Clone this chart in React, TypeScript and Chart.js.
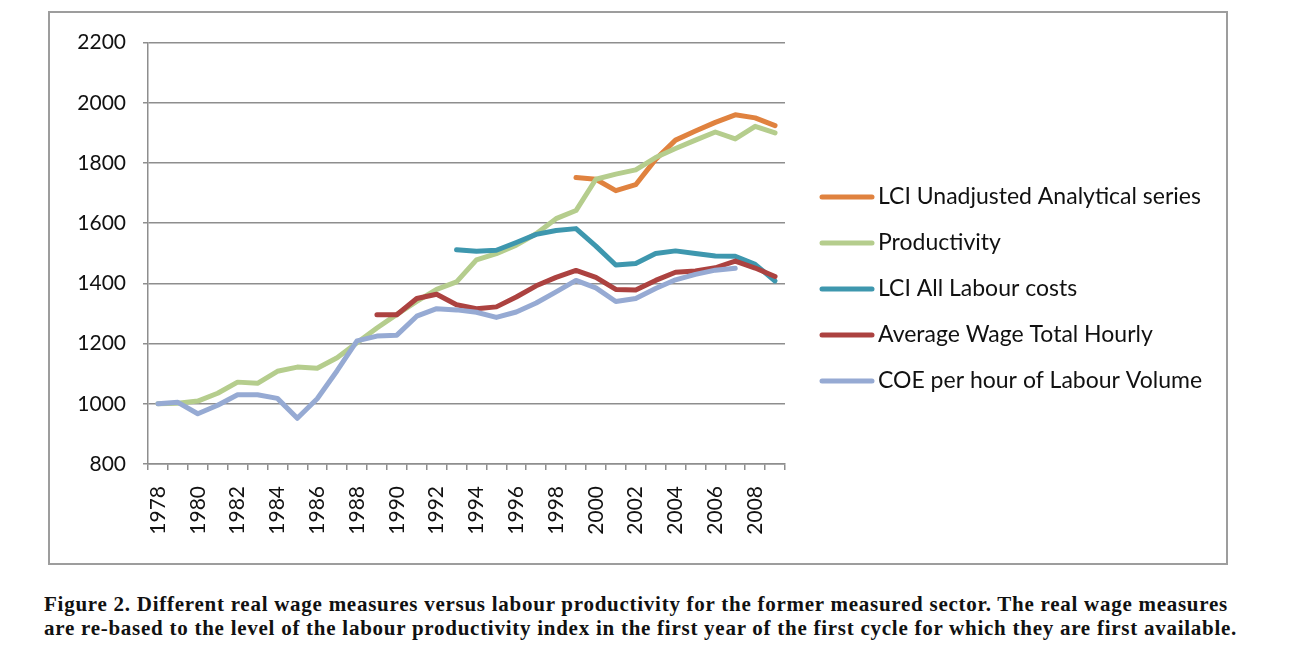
import React, { useRef, useEffect } from 'react';
import { Chart, registerables } from 'chart.js';

Chart.register(...registerables);

const years = [
  '1978', '1979', '1980', '1981', '1982', '1983', '1984', '1985', '1986', '1987', '1988',
  '1989', '1990', '1991', '1992', '1993', '1994', '1995', '1996', '1997', '1998', '1999',
  '2000', '2001', '2002', '2003', '2004', '2005', '2006', '2007', '2008', '2009'
];

const lciUnadjusted = [
  null, null, null, null, null, null, null, null, null, null, null,
  null, null, null, null, null, null, null, null, null, null, 1752,
  1746, 1708, 1728, 1812, 1876, 1906, 1935, 1960, 1950, 1924
];

const productivity = [
  1000, 1002, 1009, 1035, 1072, 1068, 1108, 1122, 1118, 1153, 1203,
  1252, 1297, 1340, 1380, 1405, 1478, 1499, 1527, 1565, 1615, 1642,
  1746, 1763, 1777, 1818, 1848, 1876, 1903, 1880, 1922, 1900
];

const lciAllLabour = [
  null, null, null, null, null, null, null, null, null, null, null,
  null, null, null, null, 1512, 1507, 1510, 1536, 1563, 1576, 1582,
  1524, 1461, 1466, 1499, 1508, 1499, 1491, 1490, 1463, 1408
];

const avgWageHourly = [
  null, null, null, null, null, null, null, null, null, null, null,
  1296, 1296, 1350, 1364, 1329, 1316, 1322, 1355, 1392, 1420, 1443,
  1420, 1380, 1378, 1410, 1437, 1441, 1452, 1474, 1451, 1423
];

const coePerHour = [
  1000, 1005, 967, 995, 1030, 1030, 1018, 952, 1017, 1110, 1209,
  1225, 1228, 1291, 1316, 1312, 1304, 1287, 1305, 1335, 1372, 1410,
  1385, 1340, 1350, 1383, 1412, 1430, 1444, 1450, null, null
];

const seriesNames = [
  'LCI Unadjusted Analytical series',
  'Productivity',
  'LCI All Labour costs',
  'Average Wage Total Hourly',
  'COE per hour of Labour Volume'
];

const seriesColors = ['#e0823f', '#b5cd8d', '#3e97ae', '#ac4240', '#96aad3'];

const FONT = 'Lato, "Noto Sans", sans-serif';
const GRID = '#8e8e8e';

// legend drawn at the right of the plot, in Excel style
const sideLegend = {
  id: 'sideLegend',
  afterDraw(chart: any) {
    const ctx = chart.ctx;
    const left = chart.chartArea.right + 37;
    ctx.save();
    chart.data.datasets.forEach((ds: any, i: number) => {
      const y = 184 + i * 46;
      ctx.strokeStyle = ds.borderColor;
      ctx.lineWidth = 5;
      ctx.lineCap = 'round';
      ctx.beginPath();
      ctx.moveTo(left, y);
      ctx.lineTo(left + 50, y);
      ctx.stroke();
      ctx.fillStyle = '#111';
      ctx.font = '23px ' + FONT;
      ctx.textBaseline = 'middle';
      ctx.fillText(ds.label, left + 56, y);
    });
    ctx.restore();
  }
};

export default function App() {
  const chartRef = useRef<HTMLCanvasElement>(null);

  useEffect(() => {
    if (!chartRef.current) return;
    const all = [lciUnadjusted, productivity, lciAllLabour, avgWageHourly, coePerHour];
    const chart = new Chart(chartRef.current, {
      type: 'line',
      data: {
        labels: years,
        datasets: all.map((values, i) => ({
          label: seriesNames[i],
          data: values,
          borderColor: seriesColors[i],
          backgroundColor: seriesColors[i],
          borderWidth: 5,
          pointRadius: 0,
          tension: 0,
          borderJoinStyle: 'round',
          borderCapStyle: 'round',
          spanGaps: false,
          order: 5 - i
        }))
      },
      options: {
        animation: false,
        responsive: true,
        maintainAspectRatio: false,
        layout: { padding: { top: 21, right: 441, bottom: 0, left: 0 } },
        plugins: {
          legend: { display: false },
          tooltip: { enabled: false }
        },
        scales: {
          x: {
            offset: true,
            afterFit: (s: any) => { s.height = 99; },
            grid: {
              offset: true,
              drawOnChartArea: false,
              drawTicks: true,
              tickLength: 6,
              color: GRID,
              lineWidth: 1.5
            },
            border: { color: GRID, width: 1.5 },
            ticks: {
              autoSkip: false,
              minRotation: 90,
              maxRotation: 90,
              padding: 16,
              color: '#111',
              font: { family: FONT, size: 21 },
              callback: (_v: any, idx: number) => (idx % 2 === 0 ? years[idx] : '')
            }
          },
          y: {
            min: 800,
            max: 2200,
            afterFit: (s: any) => { s.width = 98; },
            grid: { color: GRID, lineWidth: 1.5, tickLength: 5 },
            border: { color: GRID, width: 1.5 },
            ticks: {
              stepSize: 200,
              padding: 17,
              color: '#111',
              font: { family: FONT, size: 21 },
              callback: (v: any) => String(v)
            }
          }
        }
      },
      plugins: [sideLegend]
    } as any);
    return () => {
      chart.destroy();
    };
  }, []);

  return (
    <div style={{ position: 'relative', height: 645 }}>
      <div
        style={{
          position: 'absolute',
          left: 40,
          top: 3,
          width: 1176,
          height: 550,
          border: '2px solid #9d9d9d'
        }}
      >
        <canvas ref={chartRef} />
      </div>
      <div
        style={{
          position: 'absolute',
          left: 36,
          top: 584,
          fontFamily: '"Liberation Serif", "Times New Roman", serif',
          fontWeight: 'bold',
          fontSize: 21,
          letterSpacing: '0.74px',
          lineHeight: '24px',
          whiteSpace: 'nowrap',
          color: '#111'
        }}
      >
        Figure 2. Different real wage measures versus labour productivity for the former measured sector. The real wage measures
        <br />
        are re-based to the level of the labour productivity index in the first year of the first cycle for which they are first available.
      </div>
    </div>
  );
}
